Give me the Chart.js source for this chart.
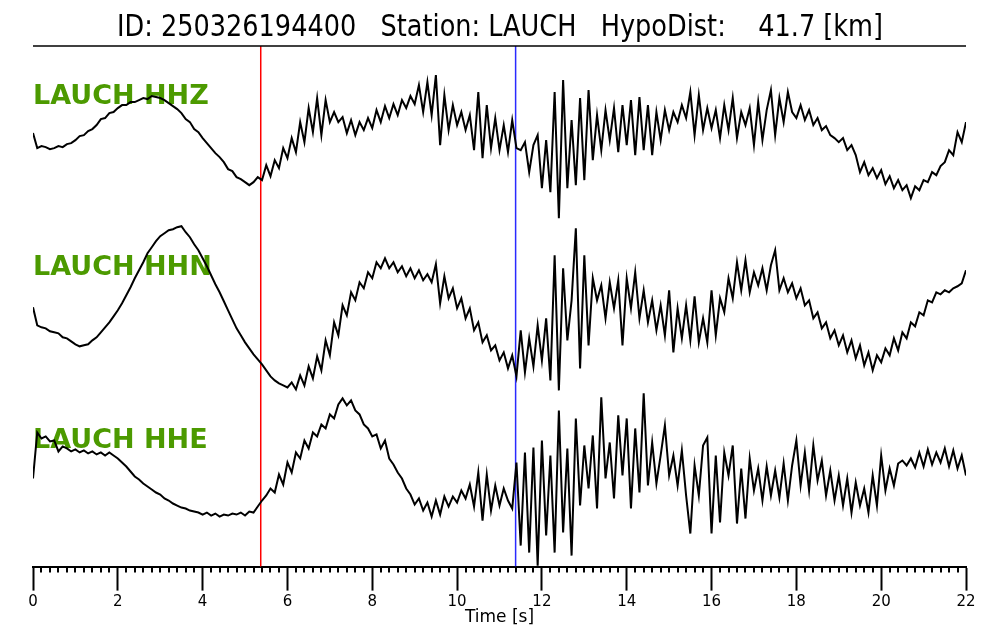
<!DOCTYPE html>
<html>
<head>
<meta charset="utf-8">
<script src="https://cdn.jsdelivr.net/npm/chart.js@4"></script>
<style>
  html, body { margin: 0; padding: 0; background: #fff; }
  #wrap { width: 1000px; height: 640px; }
</style>
</head>
<body>
<div id="wrap"><canvas id="chart-1" width="1000" height="640"></canvas></div>
<script>
// sample step in seconds, traces start at 0 s
const dt = 0.1;

const stations = ['LAUCH HHZ', 'LAUCH HHN', 'LAUCH HHE'];
const picks = [5.37, 11.38];          // P (red) and S (blue), seconds
const pickColors = ['#ff0000', '#2a2aff'];
const titleText = 'ID: 250326194400   Station: LAUCH   HypoDist:    41.7 [km]';

// amplitudes, one row per second
const hhz = [
  7,-8,-6,-7,-9,-8,-6,-7,-4,-3,
  0,4,5,9,11,15,21,22,27,28,
  32,35,35,38,38,40,42,41,44,43,
  42,40,37,34,31,27,21,18,11,8,
  2,-3,-8,-13,-17,-22,-29,-31,-37,-39,
  -42,-45,-42,-37,-40,-25,-36,-20,-28,-8,
  -18,2,-12,18,-2,32,8,42,5,40,
  18,28,18,23,7,20,5,18,10,22,
  12,30,18,34,22,36,25,40,32,44,
  36,55,28,58,25,65,-5,45,10,35,
  15,28,10,25,-10,48,-18,35,-8,22,
  -10,15,-12,20,-8,-10,-2,-32,-5,5,
  -48,0,-52,48,-78,60,-48,20,-45,42,
  -40,50,-20,25,-10,30,0,32,-12,35,
  -5,40,-15,43,-10,35,-15,28,0,30,
  10,28,18,35,22,48,5,45,10,32,
  12,30,2,35,10,42,2,28,15,32,
  -5,38,0,30,50,5,42,18,48,28,
  22,35,20,30,15,22,10,14,5,2,
  -2,2,-10,-5,-15,-32,-22,-35,-28,-38,
  -30,-44,-36,-48,-40,-50,-45,-58,-46,-50,
  -40,-42,-32,-35,-26,-22,-10,-15,8,-2,
  18
];

const hhn = [
  3,-15,-17,-18,-21,-22,-23,-27,-28,-31,
  -34,-36,-35,-34,-30,-27,-22,-17,-12,-6,
  0,7,15,23,32,40,48,57,63,69,
  74,77,80,81,83,84,78,73,66,60,
  52,44,35,26,18,9,0,-9,-18,-25,
  -32,-38,-44,-49,-54,-60,-66,-70,-73,-75,
  -77,-72,-79,-65,-75,-56,-68,-46,-60,-30,
  -45,-12,-25,5,-5,18,10,28,22,38,
  32,48,42,52,42,48,38,44,34,42,
  32,40,30,36,28,46,7,34,12,22,
  2,12,-8,2,-20,-12,-32,-25,-40,-35,
  -50,-42,-58,-45,-66,-20,-62,-28,-56,-15,
  -50,-8,-70,55,-80,42,-30,10,82,-58,
  55,-35,32,10,25,-8,28,2,30,-35,
  32,2,38,-8,20,-12,10,-20,5,-25,
  20,-42,2,-28,5,-30,14,-32,-8,-32,
  20,-25,12,-2,32,12,48,20,50,18,
  38,25,42,20,45,60,20,32,18,27,
  12,22,5,10,-8,-2,-18,-12,-28,-20,
  -35,-25,-42,-30,-48,-35,-55,-42,-60,-45,
  -52,-38,-45,-28,-40,-22,-28,-12,-16,-2,
  -5,10,8,18,16,20,18,22,24,27,
  40
];

const hhe = [
  -23,23,17,19,14,15,4,9,7,4,
  6,3,5,2,4,1,3,0,3,0,
  -3,-7,-11,-16,-21,-24,-28,-31,-34,-37,
  -39,-43,-45,-48,-50,-52,-53,-55,-56,-57,
  -59,-57,-60,-58,-61,-59,-60,-58,-59,-57,
  -60,-56,-57,-51,-45,-40,-33,-37,-19,-29,
  -7,-17,3,-3,15,7,23,19,31,27,
  41,37,51,57,50,55,45,41,31,27,
  19,21,7,15,-3,-9,-17,-23,-33,-39,
  -49,-43,-55,-47,-61,-45,-59,-41,-51,-41,
  -47,-35,-43,-29,-51,-17,-65,-19,-55,-30,
  -50,-33,-45,-53,-7,-90,3,-97,8,-110,
  15,-80,0,-97,45,-77,7,-100,37,-50,
  10,-33,20,-53,58,-23,13,-43,40,-20,
  37,-53,27,-37,62,-30,13,-28,0,30,
  -20,0,-30,5,-40,-78,-10,-40,10,18,
  -78,0,-67,3,-20,10,-68,-13,-63,-3,
  -35,-13,-45,-11,-40,-15,-42,-8,-45,-10,
  15,-30,3,-35,10,-25,-5,-40,-15,-45,
  -20,-50,-23,-57,-27,-50,-33,-57,-20,-50,
  0,-35,-13,-30,-8,-5,-10,-3,-12,3,
  -11,6,-9,3,-7,7,-11,5,-13,0,
  -20
];

// vertical placement of each trace inside the 0..520 plot range
const traceBase = [426, 256, 111];
const labelBase = [104, 275, 448];

const traces = [hhz, hhn, hhe];
const datasets = traces.map((tr, k) => ({
  label: stations[k],
  data: tr.map((v, i) => ({ x: +(i * dt).toFixed(1), y: v + traceBase[k] })),
  borderColor: '#000',
  borderWidth: 2,
  pointRadius: 0,
  tension: 0,
  fill: false
}));

const decor = {
  id: 'decor',
  beforeDatasetsDraw(chart) {
    const { ctx, chartArea, scales } = chart;
    ctx.save();
    // pick lines
    picks.forEach((p, i) => {
      const x = scales.x.getPixelForValue(p);
      ctx.strokeStyle = pickColors[i];
      ctx.lineWidth = 1.5;
      ctx.beginPath();
      ctx.moveTo(x, chartArea.top);
      ctx.lineTo(x, chartArea.bottom);
      ctx.stroke();
    });
    // station labels
    ctx.fillStyle = '#4c9a00';
    ctx.font = 'bold 27px "DejaVu Sans"';
    ctx.textBaseline = 'alphabetic';
    stations.forEach((s, i) => ctx.fillText(s, chartArea.left, labelBase[i]));
    ctx.restore();
  },
  afterDraw(chart) {
    const { ctx, chartArea, scales } = chart;
    ctx.save();
    // title, slightly condensed like the original
    ctx.font = '30px "DejaVu Sans"';
    ctx.fillStyle = '#000';
    ctx.textBaseline = 'middle';
    const w = ctx.measureText(titleText).width;
    const sx = 766 / w;
    ctx.translate(500, 28);
    ctx.scale(sx, 1);
    ctx.textAlign = 'center';
    ctx.fillText(titleText, 0, 0);
    ctx.restore();

    ctx.save();
    ctx.strokeStyle = '#000';
    ctx.lineWidth = 1.5;
    ctx.beginPath();
    ctx.moveTo(chartArea.left, chartArea.top);
    ctx.lineTo(chartArea.right, chartArea.top);
    ctx.stroke();
    // minor ticks every 0.2 s
    ctx.lineWidth = 2;
    const y0 = chartArea.bottom;
    for (let k = 1; k < 110; k++) {
      if (k % 10 === 0) continue;
      const x = Math.round(scales.x.getPixelForValue(k * 0.2));
      ctx.beginPath();
      ctx.moveTo(x, y0);
      ctx.lineTo(x, y0 + 6);
      ctx.stroke();
    }
    ctx.restore();
  }
};

const ctx = document.getElementById('chart-1').getContext('2d');
const myChart = new Chart(ctx, {
  type: 'line',
  data: { datasets: datasets },
  options: {
    responsive: false,
    animation: false,
    devicePixelRatio: 1,
    layout: { padding: { left: 33, right: 34, top: 46, bottom: 10 } },
    plugins: {
      legend: { display: false },
      tooltip: { enabled: false },
      title: { display: false }
    },
    scales: {
      x: {
        type: 'linear',
        min: 0,
        max: 22,
        border: { display: true, color: '#000', width: 2 },
        grid: {
          display: true,
          drawOnChartArea: false,
          drawTicks: true,
          tickLength: 24,
          tickWidth: 2,
          tickColor: '#000'
        },
        ticks: {
          stepSize: 2,
          color: '#000',
          padding: 3,
          maxRotation: 0,
          font: { family: 'DejaVu Sans', size: 15 }
        },
        title: {
          display: true,
          text: 'Time [s]',
          color: '#000',
          font: { family: 'DejaVu Sans', size: 17 },
          padding: { top: -7, bottom: 2 }
        }
      },
      y: {
        display: false,
        min: 0,
        max: 520
      }
    }
  },
  plugins: [decor]
});
</script>
</body>
</html>
